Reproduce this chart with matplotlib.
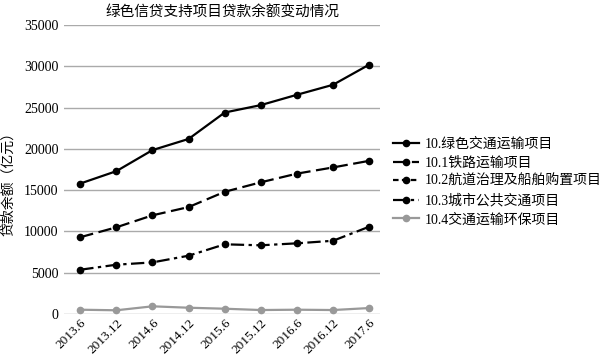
import matplotlib
matplotlib.use("Agg")
import matplotlib.pyplot as plt

plt.rcParams['font.family'] = ['Liberation Serif', 'Noto Sans CJK SC', 'DejaVu Sans']

categories = ["2013.6", "2013.12", "2014.6", "2014.12", "2015.6", "2015.12", "2016.6", "2016.12", "2017.6"]
s_green = [15800, 17300, 19850, 21200, 24400, 25300, 26550, 27760, 30200]
s_rail = [9300, 10500, 11950, 12950, 14800, 15950, 17000, 17750, 18550]
s_water = []  # not drawn in the reference, legend only
s_urban = [5360, 5970, 6250, 7060, 8440, 8320, 8560, 8870, 10570]
s_env = [520, 450, 930, 760, 640, 480, 520, 480, 720]
yticks = [0, 5000, 10000, 15000, 20000, 25000, 30000, 35000]

names = ["10.绿色交通运输项目", "10.1铁路运输项目", "10.2航道治理及船舶购置项目",
         "10.3城市公共交通项目", "10.4交通运输环保项目"]

fig = plt.figure(figsize=(6.15, 3.58), dpi=100)
ax = fig.add_axes([64/615, 1-314/358, (380-64)/615, (314-25)/358])

x = list(range(len(categories)))
kw = dict(marker='o', markersize=4.5, linewidth=1.6)
ax.plot(x, s_green, color='black', linestyle='-', label=names[0], **kw)
ax.plot(x, s_rail, color='black', linestyle=(0, (6, 2.5)), label=names[1], **kw)
ax.plot(x[:len(s_water)], s_water, color='black', linestyle=(0, (2.5, 1.5)), label=names[2], **kw)
ax.plot(x, s_urban, color='black', linestyle=(0, (6, 2, 1.5, 2)), label=names[3], **kw)
ax.plot(x, s_env, color='#999999', linestyle='-', label=names[4], **kw)

ax.set_xlim(-0.45, 8.3)
ax.set_ylim(0, 35000)
ax.set_yticks(yticks)
ax.set_yticklabels([str(v) for v in yticks], fontsize=10)
ax.set_xticks(x)
ax.set_xticklabels(categories, rotation=45, ha='right', rotation_mode='anchor', fontsize=9.5)
ax.tick_params(axis='y', length=0, pad=4)
ax.tick_params(axis='x', length=0, pad=2)
ax.yaxis.grid(True, color='#aaaaaa', linewidth=1)
ax.set_axisbelow(True)
for s in ax.spines.values():
    s.set_visible(False)

ax.set_title("绿色信贷支持项目贷款余额变动情况", fontsize=10.5, pad=6)
fig.text(8/615, 1-180/358, "贷款余额（亿元）", rotation=90, va='center', ha='center', fontsize=10)

leg = ax.legend(loc='center left', bbox_to_anchor=(1.04, 0.457), frameon=False,
                fontsize=10, handlelength=1.9, handletextpad=0.4, labelspacing=0.4,
                borderaxespad=0, borderpad=0)

fig.savefig("out.png", dpi=100)
